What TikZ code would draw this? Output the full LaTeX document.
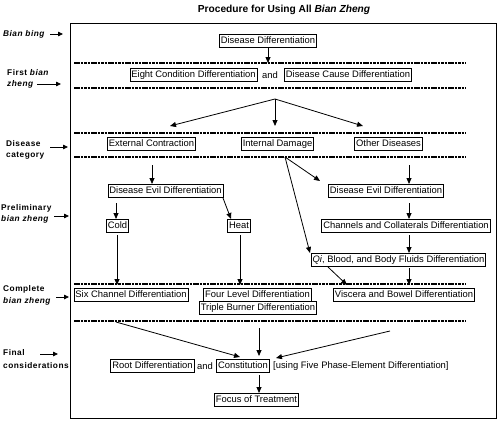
\documentclass[tikz,border=0pt]{standalone}
\usepackage{fontspec}
\setmainfont{Liberation Sans}
\newfontfamily\lblfont[LetterSpace=6]{Liberation Sans}
\usetikzlibrary{arrows.meta}
\begin{document}
\begin{tikzpicture}[x=1pt,y=-1pt,
  box/.style={draw,line width=0.8pt,inner xsep=1.5pt,inner ysep=1.8pt,text height=7pt,text depth=2pt,font=\fontsize{9.4}{10}\selectfont},
  plain/.style={inner sep=0pt,font=\fontsize{9.4}{10}\selectfont},
  lbl/.style={inner sep=0pt,anchor=west,font=\lblfont\bfseries\fontsize{8.3}{9}\selectfont},
  arr/.style={line width=0.8pt,-{Triangle[length=6pt,width=5pt]}},
  sarr/.style={line width=0.8pt,-{Triangle[length=5pt,width=4.5pt]}},
  dline/.style={line width=1.5pt,dash pattern=on 2.5pt off 0.9pt}]
\useasboundingbox (0,0) rectangle (500,423);
% title
\node[inner sep=0pt,font=\bfseries\fontsize{10.2}{11}\selectfont] (title) at (284,10) {Procedure for Using All \textit{Bian Zheng}};
% frame
\draw[line width=1pt] (70,23) rectangle (496,418);
% dashed separators
\foreach \yy/\nm in {63/d1,88/d2,133/d3,157/d4,284/d5,321/d6}{
  \coordinate (\nm a) at (74,\yy); \coordinate (\nm b) at (466,\yy);
  \draw[dline] (\nm a) -- (\nm b);}
% left labels
\node[lbl] (l1) at (3,34) {\textit{Bian bing}};
\coordinate (l1a) at (50,34); \coordinate (l1b) at (63,34);
\draw[sarr] (l1a) -- (l1b);
\node[lbl] (l2a) at (7,73) {First \textit{bian}};
\node[lbl] (l2b) at (7,84) {\textit{zheng}};
\coordinate (l2c) at (37,84); \coordinate (l2d) at (61,84);
\draw[sarr] (l2c) -- (l2d);
\node[lbl] (l3a) at (6,144) {Disease};
\node[lbl] (l3b) at (6,156) {category};
\coordinate (l3c) at (50,147); \coordinate (l3d) at (68,147);
\draw[sarr] (l3c) -- (l3d);
\node[lbl] (l4a) at (1,208) {Preliminary};
\node[lbl] (l4b) at (1,219) {\textit{bian zheng}};
\coordinate (l4c) at (54,216); \coordinate (l4d) at (69,216);
\draw[sarr] (l4c) -- (l4d);
\node[lbl] (l5a) at (3,289) {Complete};
\node[lbl] (l5b) at (3,301) {\textit{bian zheng}};
\coordinate (l5c) at (56,297); \coordinate (l5d) at (69,297);
\draw[sarr] (l5c) -- (l5d);
\node[lbl] (l6a) at (3,353) {Final};
\node[lbl] (l6b) at (3,366) {considerations};
\coordinate (l6c) at (40,354); \coordinate (l6d) at (58,354);
\draw[sarr] (l6c) -- (l6d);
% nodes
\node[box] (dd) at (268,41) {Disease Differentiation};
\node[box] (ecd) at (193.5,75) {Eight Condition Differentiation};
\node[plain] (and1) at (270,75) {and};
\node[box] (dcd) at (348,75) {Disease Cause Differentiation};
\node[box] (ec) at (151.5,144) {External Contraction};
\node[box] (id) at (277.5,144) {Internal Damage};
\node[box] (od) at (388.5,144) {Other Diseases};
\node[box] (ldev) at (165.5,191) {Disease Evil Differentiation};
\node[box] (rdev) at (386,191) {Disease Evil Differentiation};
\node[box] (cold) at (117.5,226) {Cold};
\node[box] (heat) at (239,226) {Heat};
\node[box] (ccd) at (406,226) {Channels and Collaterals Differentiation};
\node[box] (qbf) at (398.5,260) {\textit{Qi}, Blood, and Body Fluids Differentiation};
\node[box] (scd) at (131,295) {Six Channel Differentiation};
\node[box] (fld) at (257.5,295) {Four Level Differentiation};
\node[box] (tbd) at (258,308) {Triple Burner Differentiation};
\node[box] (vbd) at (404,295) {Viscera and Bowel Differentiation};
\node[box] (rd) at (152.5,366) {Root Differentiation};
\node[plain] (and2) at (205,366) {and};
\node[box] (con) at (243,366) {Constitution};
\node[plain,anchor=west] (five) at (273,366) {[using Five Phase-Element Differentiation]};
\node[box] (fot) at (256.5,400) {Focus of Treatment};
% connectors
\coordinate (c1) at (268,63);
\draw[arr] (dd) -- (c1);
\coordinate (sp) at (275,99);
\coordinate (t1) at (170,126); \coordinate (t2) at (275,126); \coordinate (t3) at (363,126);
\draw[arr] (sp) -- (t1);
\draw[arr] (sp) -- (t2);
\draw[arr] (sp) -- (t3);
\coordinate (e1) at (152,165); \coordinate (e2) at (152,184);
\draw[arr] (e1) -- (e2);
\coordinate (o1) at (409,165); \coordinate (o2) at (409,184);
\draw[arr] (o1) -- (o2);
\coordinate (cl1) at (116,203); \coordinate (cl2) at (116,219);
\draw[arr] (cl1) -- (cl2);
\coordinate (h1) at (223,198); \coordinate (h2) at (231,219);
\draw[arr] (h1) -- (h2);
\coordinate (r1) at (409,203); \coordinate (r2) at (409,219);
\draw[arr] (r1) -- (r2);
\coordinate (r3) at (409,235); \coordinate (r4) at (409,253);
\draw[arr] (r3) -- (r4);
\coordinate (r5) at (409,268); \coordinate (r6) at (409,285);
\draw[arr] (r5) -- (r6);
\coordinate (q1) at (328,267); \coordinate (q2) at (347,285);
\draw[arr] (q1) -- (q2);
\coordinate (idp) at (285,157); \coordinate (i1) at (320,181); \coordinate (i2) at (310,253);
\draw[arr] (idp) -- (i1);
\draw[arr] (idp) -- (i2);
\coordinate (cd1) at (117,235); \coordinate (cd2) at (117,285);
\draw[arr] (cd1) -- (cd2);
\coordinate (hd1) at (240,235); \coordinate (hd2) at (240,285);
\draw[arr] (hd1) -- (hd2);
\coordinate (f1) at (116,322); \coordinate (f2) at (240,357);
\draw[arr] (f1) -- (f2);
\coordinate (f3) at (259,328); \coordinate (f4) at (259,356);
\draw[arr] (f3) -- (f4);
\coordinate (f5) at (390,331); \coordinate (f6) at (276,358);
\draw[arr] (f5) -- (f6);
\coordinate (g1) at (259,375); \coordinate (g2) at (259,393);
\draw[arr] (g1) -- (g2);
\end{tikzpicture}
\end{document}
